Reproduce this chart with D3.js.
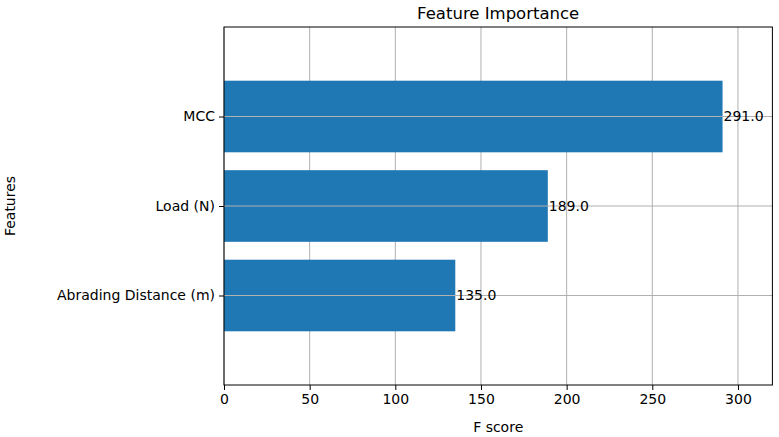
<!DOCTYPE html>
<html><head><meta charset="utf-8">
<script src="https://cdn.jsdelivr.net/npm/d3@7"></script>
<style>body{margin:0;background:#fff}text{font-family:"DejaVu Sans",sans-serif}</style>
</head><body><svg id="c" width="779" height="437"></svg>
<script>
var features = ["Abrading Distance (m)", "Load (N)", "MCC"];
var scores = [135.0, 189.0, 291.0];
var xTicks = [0, 50, 100, 150, 200, 250, 300];

var svg = d3.select("#c");
var pL = 224, pR = 772.4, pT = 27, pB = 385;
var x = d3.scaleLinear().domain([0, d3.max(scores) * 1.1]).range([pL, pR]);
var y = d3.scaleLinear().domain([-1, 3]).range([pB, pT]);
var bh = y(0) - y(0.8);

// grid
svg.append("g").selectAll("line").data(xTicks).enter().append("line")
  .attr("x1", d => x(d)).attr("x2", d => x(d)).attr("y1", pT).attr("y2", pB)
  .attr("stroke", "#b0b0b0").attr("stroke-width", 1);
svg.append("g").selectAll("rect").data(scores).enter().append("rect")
  .attr("x", x(0)).attr("y", (d, i) => y(i) - bh / 2)
  .attr("width", d => x(d) - x(0)).attr("height", bh).attr("fill", "#1f77b4");
svg.append("g").selectAll("line").data(features).enter().append("line")
  .attr("x1", pL).attr("x2", pR).attr("y1", (d, i) => y(i)).attr("y2", (d, i) => y(i))
  .attr("stroke", "#b0b0b0").attr("stroke-width", 1);

// value labels
svg.append("g").selectAll("text").data(scores).enter().append("text")
  .attr("x", d => x(d) + 1).attr("y", (d, i) => y(i)).attr("dy", "0.35em")
  .attr("font-size", 14).text(d => d.toFixed(1));

// axes
var xa = svg.append("g").attr("transform", "translate(0," + pB + ")")
  .call(d3.axisBottom(x).tickValues(xTicks).tickSize(5).tickPadding(4).tickFormat(d3.format("d")));
var ya = svg.append("g").attr("transform", "translate(" + pL + ",0)")
  .call(d3.axisLeft(y).tickValues([0, 1, 2]).tickSize(5).tickPadding(4).tickFormat((d) => features[d]));
[xa, ya].forEach(function (a) {
  a.select(".domain").remove();
  a.selectAll("text").attr("font-size", 14).attr("fill", "#000").style("font-family", "DejaVu Sans");
  a.selectAll("line").attr("stroke", "#000");
});
svg.append("rect").attr("x", pL).attr("y", pT).attr("width", pR - pL).attr("height", pB - pT)
  .attr("fill", "none").attr("stroke", "#000").attr("stroke-width", 1);

svg.append("text").attr("x", (pL + pR) / 2).attr("y", 19).attr("text-anchor", "middle")
  .attr("font-size", 16.5).text("Feature Importance");
svg.append("text").attr("x", (pL + pR) / 2).attr("y", 432).attr("text-anchor", "middle")
  .attr("font-size", 14).text("F score");
svg.append("text").attr("transform", "translate(15," + (pT + pB) / 2 + ") rotate(-90)")
  .attr("text-anchor", "middle").attr("font-size", 14).text("Features");
</script></body></html>
